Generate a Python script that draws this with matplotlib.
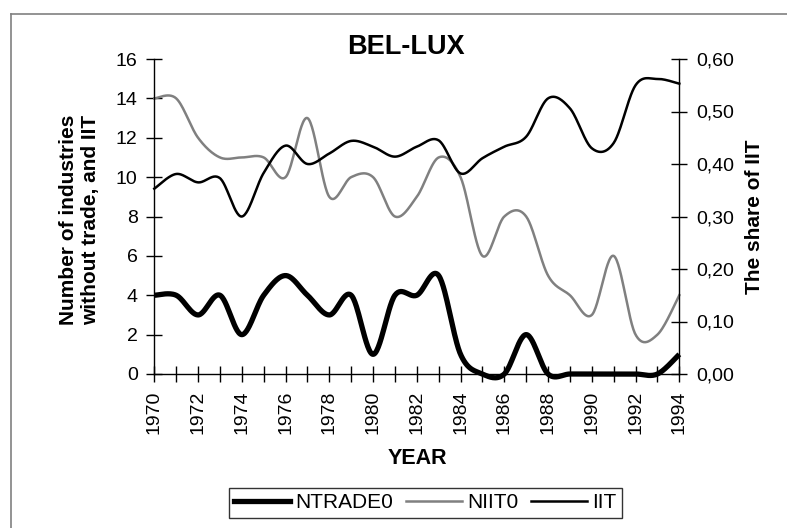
import numpy as np
import matplotlib
matplotlib.use("Agg")
import matplotlib.pyplot as plt
from matplotlib.lines import Line2D
from matplotlib.ticker import FuncFormatter, MultipleLocator

plt.rcParams['font.family'] = ['Liberation Sans', 'DejaVu Sans']

years = list(range(1970, 1995))
ntrade0 = [4, 4, 3, 4, 2, 4, 5, 4, 3, 4, 1, 4, 4, 5, 1, 0, 0, 2, 0, 0, 0, 0, 0, 0, 1]
niit0 = [14, 14, 12, 11, 11, 11, 10, 13, 9, 10, 10, 8, 9, 11, 10, 6, 8, 8, 5, 4, 3, 6, 2, 2, 4]
iit = [0.353, 0.381, 0.365, 0.373, 0.300, 0.383, 0.435, 0.400, 0.420, 0.444,
       0.433, 0.414, 0.433, 0.445, 0.382, 0.411, 0.433, 0.452, 0.525, 0.506,
       0.430, 0.440, 0.550, 0.562, 0.553]
left_ticks = [0, 2, 4, 6, 8, 10, 12, 14, 16]
right_ticks = [0.0, 0.1, 0.2, 0.3, 0.4, 0.5, 0.6]
series_names = ["NTRADE0", "NIIT0", "IIT"]


def smooth(x, y, n=30):
    """Excel-style smoothed line (Catmull-Rom Bezier)."""
    x = np.asarray(x, float)
    y = np.asarray(y, float)
    P = np.column_stack([x, y])
    P = np.vstack([P[0], P, P[-1]])
    out = []
    t = np.linspace(0, 1, n)[:, None]
    for i in range(1, len(P) - 2):
        p0, p1, p2, p3 = P[i - 1], P[i], P[i + 1], P[i + 2]
        c1 = p1 + (p2 - p0) / 6.0
        c2 = p2 - (p3 - p1) / 6.0
        seg = ((1 - t) ** 3) * p1 + 3 * ((1 - t) ** 2) * t * c1 + 3 * (1 - t) * t ** 2 * c2 + t ** 3 * p2
        out.append(seg if i == 1 else seg[1:])
    out = np.vstack(out)
    return out[:, 0], out[:, 1]


W, H = 787, 528
fig = plt.figure(figsize=(W / 100, H / 100), dpi=100)

x0, x1, yt, yb = 154.3, 679.3, 59, 374
ax = fig.add_axes([x0 / W, 1 - yb / H, (x1 - x0) / W, (yb - yt) / H])
ax2 = ax.twinx()

gray = '#808080'
sx, sy = smooth(years, ntrade0)
ax.plot(sx, sy, color='black', lw=3.8, solid_capstyle='butt', clip_on=False, zorder=3)
sx, sy = smooth(years, niit0)
ax.plot(sx, sy, color=gray, lw=1.8, clip_on=False, zorder=2)
sx, sy = smooth(years, iit)
ax2.plot(sx, sy, color='black', lw=1.8, clip_on=False)

ax.set_xlim(1970, 1994)
ax.set_ylim(0, 16)
ax2.set_ylim(0, 0.6)

ax.set_yticks(left_ticks)
ax2.set_yticks(right_ticks)
ax2.yaxis.set_major_formatter(FuncFormatter(lambda v, p: f"{v:.2f}".replace('.', ',')))

ax.set_xticks(years[::2])
ax.set_xticklabels([str(y) for y in years[::2]], rotation=90)
ax.xaxis.set_minor_locator(MultipleLocator(1))

for a in (ax, ax2):
    a.spines['top'].set_visible(False)
    for s in a.spines.values():
        s.set_linewidth(1.0)
        s.set_color('black')
ax.spines['right'].set_visible(False)
ax2.spines['left'].set_visible(False)
ax2.spines['bottom'].set_visible(False)

ax.tick_params(axis='y', direction='inout', length=11, width=1, labelsize=14, pad=6.5)
ax.tick_params(axis='x', which='both', direction='inout', length=11, width=1, labelsize=14, pad=6.5)
ax2.tick_params(axis='y', direction='inout', length=11, width=1, labelsize=14, pad=6.5)

# text
fig.text(405.6 / W, 1 - 47 / H, 'BEL-LUX', ha='center', va='center', fontsize=19.5, fontweight='bold')
fig.text(417 / W, 1 - 458 / H, 'YEAR', ha='center', va='center', fontsize=15.5, fontweight='bold')
fig.text(80 / W, 1 - 220 / H, 'Number of industries\nwithout trade, and IIT', ha='center', va='center',
         rotation=90, fontsize=15, fontweight='bold', linespacing=1.2, multialignment='center')
fig.text(755 / W, 1 - 217 / H, 'The share of IIT', ha='center', va='center', rotation=90,
         fontsize=15, fontweight='bold')

handles = [Line2D([], [], color='black', lw=3.8),
           Line2D([], [], color=gray, lw=1.8),
           Line2D([], [], color='black', lw=1.8)]
leg = fig.legend(handles, series_names, loc='center', bbox_to_anchor=(425.2 / W, 1 - 502.9 / H),
                 ncol=3, fontsize=15, frameon=True, fancybox=False, handlelength=2.7,
                 handletextpad=0.25, columnspacing=0.6, borderpad=0.25, borderaxespad=0)
leg.get_frame().set_edgecolor('black')
leg.get_frame().set_linewidth(1.0)

# chart border
fig.add_artist(Line2D([11 / W, 1], [1 - 14 / H, 1 - 14 / H], transform=fig.transFigure, color=gray, lw=1.2))
fig.add_artist(Line2D([11 / W, 11 / W], [0, 1 - 14 / H], transform=fig.transFigure, color=gray, lw=1.2))

fig.savefig('out.png', dpi=100)
